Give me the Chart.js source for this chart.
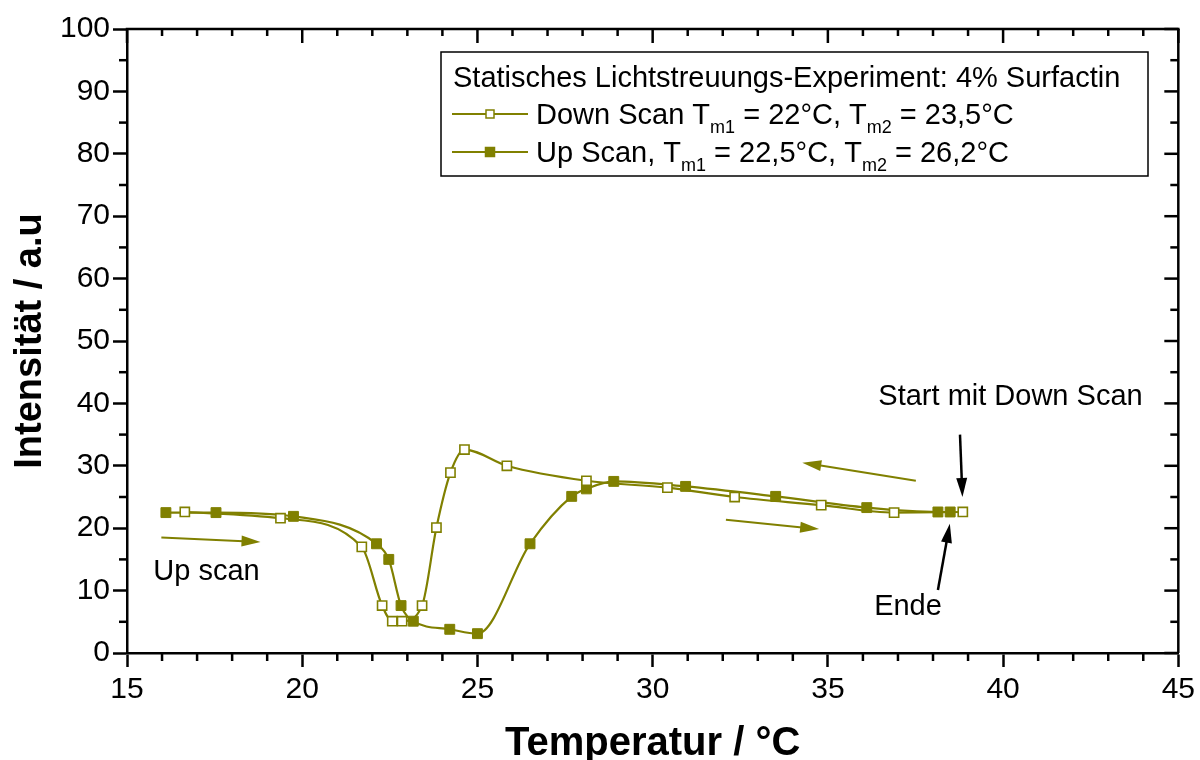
<!DOCTYPE html>
<html>
<head>
<meta charset="utf-8">
<title>Statisches Lichtstreuungs-Experiment: 4% Surfactin</title>
<script src="https://cdn.jsdelivr.net/npm/chart.js@4.4.1/dist/chart.umd.min.js"></script>
<style>
  html, body { margin: 0; padding: 0; background: #ffffff; }
  #wrap { width: 1200px; height: 760px; position: relative; }
</style>
</head>
<body>
<div id="wrap"><canvas id="chart" width="1200" height="760"></canvas></div>
<script>
// Down scan (open squares): temperature in °C and scattered intensity in a.u.
const downTemp = [16.65, 19.38, 21.70, 22.28, 22.57, 22.85, 23.42, 23.83, 24.23, 24.63, 25.84, 28.11, 30.42, 32.34, 34.81, 36.89, 38.85];
const downInt  = [22.6, 21.6, 17.0, 7.6, 5.1, 5.1, 7.6, 20.1, 28.9, 32.6, 30.0, 27.6, 26.5, 25.0, 23.7, 22.5, 22.6];

// Up scan (filled squares)
const upTemp = [16.11, 17.54, 19.75, 22.12, 22.47, 22.82, 23.17, 24.21, 25.00, 26.50, 27.69, 28.11, 28.89, 30.94, 33.51, 36.11, 38.14, 38.49];
const upInt  = [22.5, 22.5, 21.9, 17.5, 15.0, 7.6, 5.1, 3.8, 3.1, 17.5, 25.1, 26.3, 27.5, 26.7, 25.1, 23.3, 22.6, 22.6];

// Axis ranges and tick steps
const xRange = [15, 45];
const yRange = [0, 100];
const xMajorStep = 5, xMinorStep = 1;
const yMajorStep = 10, yMinorStep = 5;

// Legend texts (subscripted parts marked separately)
const legendTitle = 'Statisches Lichtstreuungs-Experiment: 4% Surfactin';
const legendDown = [['Down Scan T', false], ['m1', true], [' = 22°C, T', false], ['m2', true], [' = 23,5°C', false]];
const legendUp   = [['Up Scan, T', false], ['m1', true], [' = 22,5°C, T', false], ['m2', true], [' = 26,2°C', false]];

const OLIVE = '#808000';
const FONT = '"Liberation Sans", Arial, Helvetica, sans-serif';

const toPoints = (xs, ys) => xs.map((v, i) => ({ x: v, y: ys[i] }));

// Direction arrows and notes, placed in data coordinates
const arrows = [
  { from: [15.98, 18.5], to: [18.81, 17.8], color: OLIVE, width: 2, head: 19, half: 5.5 },
  { from: [37.51, 27.6], to: [34.27, 30.5], color: OLIVE, width: 2, head: 19, half: 5.5 },
  { from: [32.09, 21.35], to: [34.75, 19.86], color: OLIVE, width: 2, head: 19, half: 5.5 },
  { from: [38.77, 35.0], to: [38.84, 25.0], color: '#000', width: 2.5, head: 19, half: 5.5 },
  { from: [38.14, 10.1], to: [38.48, 20.7], color: '#000', width: 2.5, head: 19, half: 5.5 }
];
const notes = [
  { text: 'Up scan', at: [15.75, 13.0] },
  { text: 'Start mit Down Scan', at: [36.44, 41.05] },
  { text: 'Ende', at: [36.32, 7.4] }
];

// Frame on top/right plus minor ticks; mirrored ticks point inward
const frameTicks = {
  id: 'frameTicks',
  afterDraw(chart) {
    const { ctx, chartArea: a, scales: { x, y } } = chart;
    const seg = (x1, y1, x2, y2) => { ctx.beginPath(); ctx.moveTo(x1, y1); ctx.lineTo(x2, y2); ctx.stroke(); };
    ctx.save();
    ctx.strokeStyle = '#000';
    ctx.lineWidth = 2.5;
    ctx.lineCap = 'butt';
    seg(a.left - 1.25, a.top, a.right + 1.25, a.top);
    seg(a.right, a.top, a.right, a.bottom);
    for (let v = xRange[0]; v <= xRange[1] + 1e-9; v += xMinorStep) {
      const px = x.getPixelForValue(v);
      const major = Math.abs(v % xMajorStep) < 1e-9;
      if (!major) seg(px, a.bottom, px, a.bottom + 8);
      seg(px, a.top, px, a.top + (major ? 14 : 7));
    }
    for (let v = yRange[0]; v <= yRange[1] + 1e-9; v += yMinorStep) {
      const py = y.getPixelForValue(v);
      const major = Math.abs(v % yMajorStep) < 1e-9;
      if (!major) seg(a.left, py, a.left - 8, py);
      seg(a.right, py, a.right - (major ? 14 : 8), py);
    }
    ctx.restore();
  }
};

// Arrows, notes and the legend box
const annotations = {
  id: 'annotations',
  afterDatasetsDraw(chart) {
    const { ctx, scales: { x, y } } = chart;
    ctx.save();
    arrows.forEach(ar => {
      const x1 = x.getPixelForValue(ar.from[0]), y1 = y.getPixelForValue(ar.from[1]);
      const x2 = x.getPixelForValue(ar.to[0]), y2 = y.getPixelForValue(ar.to[1]);
      const ang = Math.atan2(y2 - y1, x2 - x1);
      const bx = x2 - ar.head * Math.cos(ang), by = y2 - ar.head * Math.sin(ang);
      ctx.strokeStyle = ar.color; ctx.fillStyle = ar.color; ctx.lineWidth = ar.width;
      ctx.beginPath(); ctx.moveTo(x1, y1); ctx.lineTo(bx + 2 * Math.cos(ang), by + 2 * Math.sin(ang)); ctx.stroke();
      ctx.beginPath();
      ctx.moveTo(x2, y2);
      ctx.lineTo(bx + ar.half * Math.sin(ang), by - ar.half * Math.cos(ang));
      ctx.lineTo(bx - ar.half * Math.sin(ang), by + ar.half * Math.cos(ang));
      ctx.closePath(); ctx.fill();
    });
    ctx.fillStyle = '#000';
    ctx.font = '29px ' + FONT;
    ctx.textBaseline = 'middle';
    ctx.textAlign = 'left';
    notes.forEach(n => ctx.fillText(n.text, x.getPixelForValue(n.at[0]), y.getPixelForValue(n.at[1])));

    // legend
    const box = { l: 441, t: 52, r: 1148, b: 176 };
    ctx.fillStyle = '#fff';
    ctx.fillRect(box.l, box.t, box.r - box.l, box.b - box.t);
    ctx.strokeStyle = '#000'; ctx.lineWidth = 1.5;
    ctx.strokeRect(box.l, box.t, box.r - box.l, box.b - box.t);
    ctx.fillStyle = '#000';
    ctx.textBaseline = 'alphabetic';
    ctx.font = '29px ' + FONT;
    ctx.fillText(legendTitle, 453, 87);

    const rich = (parts, x0, base) => {
      let cx = x0;
      parts.forEach(([s, sub]) => {
        ctx.font = (sub ? '18px ' : '29px ') + FONT;
        ctx.fillText(s, cx, sub ? base + 9 : base);
        cx += ctx.measureText(s).width;
      });
    };
    const rows = [
      { parts: legendDown, filled: false, cy: 114 },
      { parts: legendUp, filled: true, cy: 152 }
    ];
    rows.forEach(r => {
      ctx.strokeStyle = OLIVE; ctx.lineWidth = 2;
      ctx.beginPath(); ctx.moveTo(452, r.cy); ctx.lineTo(528, r.cy); ctx.stroke();
      const s = r.filled ? 9 : 8;
      ctx.fillStyle = r.filled ? OLIVE : '#fff';
      ctx.fillRect(490 - s / 2, r.cy - s / 2, s, s);
      ctx.lineWidth = 1.5;
      ctx.strokeRect(490 - s / 2, r.cy - s / 2, s, s);
      ctx.fillStyle = '#000';
      rich(r.parts, 536, r.cy + 10);
    });
    ctx.restore();
  }
};

new Chart(document.getElementById('chart'), {
  type: 'scatter',
  data: {
    datasets: [
      {
        label: 'Down Scan',
        data: toPoints(downTemp, downInt),
        showLine: true,
        cubicInterpolationMode: 'monotone',
        borderColor: OLIVE,
        borderWidth: 2.2,
        pointStyle: 'rect',
        pointRadius: 6.5,
        pointBackgroundColor: '#ffffff',
        pointBorderColor: OLIVE,
        pointBorderWidth: 1.6
      },
      {
        label: 'Up Scan',
        data: toPoints(upTemp, upInt),
        showLine: true,
        cubicInterpolationMode: 'monotone',
        borderColor: OLIVE,
        borderWidth: 2.2,
        pointStyle: 'rect',
        pointRadius: 7,
        pointBackgroundColor: OLIVE,
        pointBorderColor: OLIVE,
        pointBorderWidth: 1
      }
    ]
  },
  options: {
    responsive: false,
    animation: false,
    events: [],
    layout: { padding: { left: 0, top: 29, right: 19, bottom: 0 } },
    plugins: { legend: { display: false }, tooltip: { enabled: false } },
    scales: {
      x: {
        type: 'linear',
        min: xRange[0], max: xRange[1],
        afterFit(scale) { scale.height = 107; },
        border: { display: true, color: '#000', width: 2.5 },
        grid: { drawOnChartArea: false, drawTicks: true, tickLength: 14, tickWidth: 2.5, tickColor: '#000' },
        ticks: { stepSize: xMajorStep, color: '#000', padding: 5, font: { family: FONT, size: 30 }, maxRotation: 0 },
        title: { display: true, text: 'Temperatur / °C', color: '#000', padding: { top: 0, bottom: 0 }, font: { family: FONT, size: 40, weight: 'bold', lineHeight: 0.8 } }
      },
      y: {
        type: 'linear',
        min: yRange[0], max: yRange[1],
        afterFit(scale) { scale.width = 127; },
        border: { display: true, color: '#000', width: 2.5 },
        grid: { drawOnChartArea: false, drawTicks: true, tickLength: 14, tickWidth: 2.5, tickColor: '#000' },
        ticks: { stepSize: yMajorStep, color: '#000', padding: 3, font: { family: FONT, size: 30 } },
        title: { display: true, text: 'Intensität / a.u', color: '#000', padding: { top: 12, bottom: 0 }, font: { family: FONT, size: 38, weight: 'bold', lineHeight: 1 } }
      }
    }
  },
  plugins: [frameTicks, annotations]
});
</script>
</body>
</html>
